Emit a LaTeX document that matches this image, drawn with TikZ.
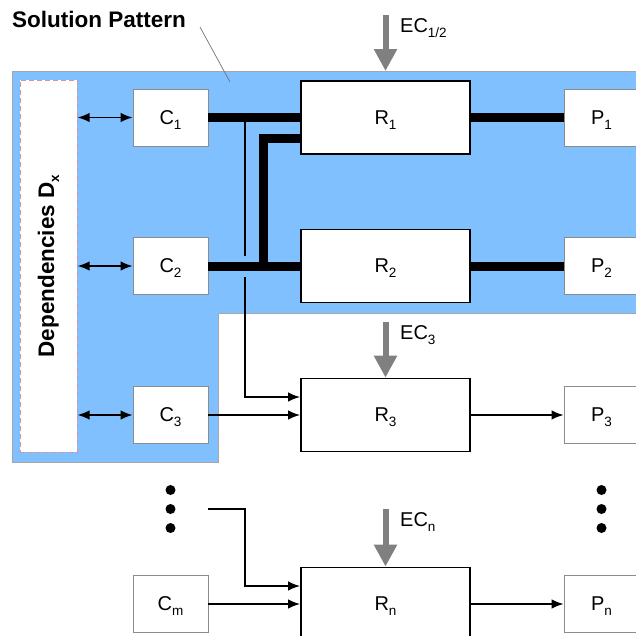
\documentclass[tikz,border=0pt]{standalone}
\usepackage{fontspec}
\setmainfont{Liberation Sans}
\usetikzlibrary{arrows.meta,calc,positioning}
\definecolor{patblue}{RGB}{128,192,255}
\definecolor{depred}{RGB}{214,150,150}
\tikzset{>={Latex[length=12pt,width=9.5pt]}}
\newcommand{\lowidx}[1]{\raisebox{-5pt}{\fontsize{13.5}{14}\selectfont #1}}

\begin{document}
\begin{tikzpicture}[x=1pt,y=-1pt]
      \tikzstyle{cnode} = [draw=black!45, line width=0.8pt, fill=white, rectangle, minimum width=75pt, minimum height=57pt, inner sep=0pt, text depth=0pt, font=\fontsize{20}{24}\selectfont]
      \tikzstyle{rnode} = [draw=black, line width=1.8pt, fill=white, rectangle, minimum width=169pt, minimum height=73pt, inner sep=0pt, text depth=0pt, font=\fontsize{20}{24}\selectfont]
      \tikzstyle{dnode} = [circle, fill=black, inner sep=0pt, minimum size=10pt]
      \tikzstyle{bus} = [line width=9pt]
      \tikzstyle{wire} = [line width=1.6pt]
      \tikzstyle{ecarrow} = [draw=black!50, line width=6pt, -{Triangle[length=22pt,width=22pt]}]
      \tikzstyle{eclabel} = [anchor=base west, inner sep=0pt, font=\fontsize{20}{24}\selectfont]

      \useasboundingbox (0,0) rectangle (636,635);
      \clip (0,0) rectangle (636,635);

      %%%%%%%%%%%%%%%%%%%%%%%%%%%%%% 
      %% The solution pattern region
      %%%%%%%%%%%%%%%%%%%%%%%%%%%%%% 
      \filldraw[fill=patblue, draw=black!35, line width=0.8pt] (12,71) -- (645,71) -- (645,313) -- (218,313) -- (218,462) -- (12,462) -- cycle;
      \node[anchor=base west, inner sep=0pt, font=\fontsize{22.5}{26}\selectfont\bfseries] (title) at (12,27) {Solution Pattern};
      \coordinate (lstart) at (200,27);
      \coordinate (ltip) at (230,82);
      \draw[black!55, line width=0.7pt] (lstart) -- (ltip);

      \node[draw=depred, dash pattern=on 5pt off 3pt, line width=1pt, fill=white, minimum width=57pt, minimum height=372pt, inner sep=0pt] (dep) at (48.5,266) {\rotatebox{90}{\fontsize{22.5}{26}\selectfont\bfseries Dependencies D\lowidx{x}}};

      %%%%%%%%%%%%%%%%%%%%%%%%%%%%%% 
      %% Components, rules, products
      %%%%%%%%%%%%%%%%%%%%%%%%%%%%%% 
      \node[cnode] (C1) at (170.5,117.5) {C\lowidx{1}};
      \node[cnode] (C2) at (170.5,266) {C\lowidx{2}};
      \node[cnode] (C3) at (170.5,415) {C\lowidx{3}};
      \node[cnode] (Cm) at (170.5,604) {C\lowidx{m}};

      \node[rnode] (R1) at (385.5,117.5) {R\lowidx{1}};
      \node[rnode] (R2) at (385.5,266) {R\lowidx{2}};
      \node[rnode] (R3) at (385.5,415) {R\lowidx{3}};
      \node[rnode] (Rn) at (385.5,604) {R\lowidx{n}};

      \node[cnode] (P1) at (601.5,117.5) {P\lowidx{1}};
      \node[cnode] (P2) at (601.5,266) {P\lowidx{2}};
      \node[cnode] (P3) at (601.5,415) {P\lowidx{3}};
      \node[cnode] (Pn) at (601.5,604) {P\lowidx{n}};

      \node[dnode] (dl1) at (170.5,490) {};
      \node[dnode] (dl2) at (170.5,509) {};
      \node[dnode] (dl3) at (170.5,528) {};
      \node[dnode] (dr1) at (601.5,490) {};
      \node[dnode] (dr2) at (601.5,509) {};
      \node[dnode] (dr3) at (601.5,528) {};

      % dependencies
      \draw[wire,<->] (dep.east |- C1.west) -- (C1.west);
      \draw[wire,<->] (dep.east |- C2.west) -- (C2.west);
      \draw[wire,<->] (dep.east |- C3.west) -- (C3.west);

      % thick links inside the pattern
      \coordinate (j1) at ($(C1.east)!0.4!(R1.west)$);
      \coordinate (j2) at ($(C2.east)!0.6!(R2.west)$);
      \coordinate (r3in) at ([yshift=18pt]R3.west);
      \coordinate (rnin) at ([yshift=18pt]Rn.west);
      \draw[bus] (C1.east) -- (R1.west);
      \draw[bus] (R1.east) -- (P1.west);
      \draw[wire,->] (j1) |- (r3in);
      % gap where the thin line passes under
      \draw[patblue, line width=21pt] ([xshift=1pt]C2.east) -- ([xshift=-1pt]R2.west);
      \draw[bus] (C2.east) -- (R2.west);
      \draw[bus] ([yshift=-20.5pt]R1.west) -| (j2);
      \draw[bus] (R2.east) -- (P2.west);

      % thin links
      \draw[wire,->] (C3.east) -- (R3.west);
      \draw[wire,->] (R3.east) -- (P3.west);
      \coordinate (dsrc) at (C3.east |- dl2);
      \draw[wire,->] (dsrc) -| (rnin -| j1) -- (rnin);
      \draw[wire,->] (Cm.east) -- (Rn.west);
      \draw[wire,->] (Rn.east) -- (Pn.west);

      % external constraints
      \coordinate (ec12) at (385.5,15);
      \coordinate (ectop) at (385.5,71);
      \coordinate (ec3) at (385.5,322);
      \coordinate (ecn) at (385.5,509);
      \draw[ecarrow] (ec12) -- (ectop);
      \draw[ecarrow] (ec3) -- (R3.north);
      \draw[ecarrow] (ecn) -- (Rn.north);
      \node[eclabel] (lec12) at (400,32) {EC\lowidx{1/2}};
      \node[eclabel] (lec3) at (400,339) {EC\lowidx{3}};
      \node[eclabel] (lecn) at (400,526) {EC\lowidx{n}};

    \end{tikzpicture}
\end{document}
